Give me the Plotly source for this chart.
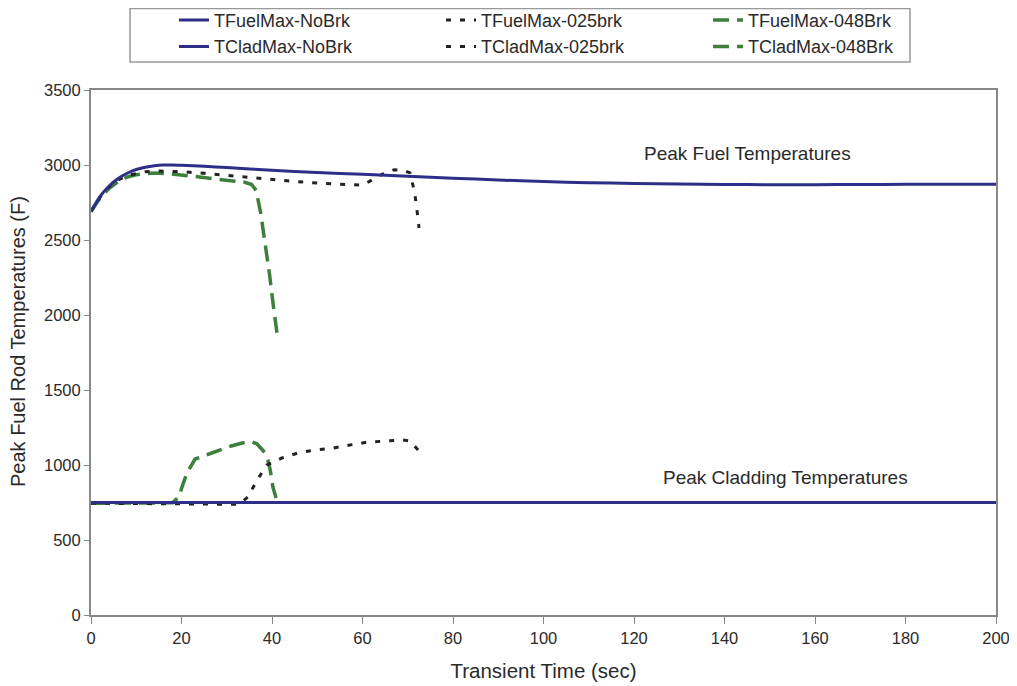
import plotly.graph_objects as go

# ---- data ----
t_fuel_nobrk = [0, 2, 4, 6, 8, 10, 12, 14, 16, 18, 20, 25, 30, 40, 50, 60, 70, 80, 90, 100,
                110, 120, 130, 140, 150, 160, 170, 180, 190, 200]
y_fuel_nobrk = [2690, 2790, 2860, 2910, 2945, 2970, 2985, 2995, 3000, 3000, 2998, 2992, 2983, 2965,
                2950, 2938, 2925, 2912, 2900, 2890, 2882, 2877, 2873, 2870, 2869, 2869, 2870, 2871,
                2872, 2872]

t_fuel_025 = [0, 2, 4, 6, 8, 10, 12, 15, 17, 20, 25, 30, 35, 40, 45, 50, 55, 60, 63, 65, 67, 69,
              70.5, 71.5, 72, 72.5]
y_fuel_025 = [2690, 2785, 2855, 2900, 2930, 2945, 2955, 2960, 2960, 2955, 2945, 2930, 2915, 2905,
              2890, 2880, 2872, 2865, 2915, 2950, 2968, 2965, 2947, 2820, 2710, 2580]

t_fuel_048 = [0, 2, 4, 6, 8, 10, 12, 14, 17, 20, 24, 28, 31, 34, 35.5, 36.5, 37.5, 38.5, 39.5,
              40.3, 41.1]
y_fuel_048 = [2690, 2780, 2845, 2890, 2920, 2935, 2943, 2946, 2943, 2935, 2920, 2905, 2895, 2885,
              2870, 2830, 2680, 2480, 2260, 2060, 1880]

t_clad_nobrk = [0, 50, 100, 150, 200]
y_clad_nobrk = [750, 750, 750, 750, 750]

t_clad_025 = [0, 5, 10, 15, 20, 25, 30, 32, 33, 34.7, 36.7, 38.9, 42.2, 45.7, 49.5, 53.5, 57.2,
              61.2, 65.4, 68.9, 70.5, 72.3]
y_clad_025 = [745, 745, 743, 742, 740, 740, 738, 738, 745, 787, 900, 1000, 1047, 1080, 1100, 1113,
              1133, 1153, 1160, 1167, 1160, 1100]

t_clad_048 = [0, 5, 10, 15, 18, 19.5, 20.1, 21.2, 23, 26.7, 31, 33.4, 35.5, 36.7, 38.5, 39.1, 39.6,
              40.2, 40.9]
y_clad_048 = [745, 745, 745, 745, 748, 790, 853, 947, 1040, 1080, 1127, 1147, 1155, 1140, 1080,
              1033, 967, 853, 780]

BLUE = "#2e2e88"
BLACK = "#222222"
GREEN = "#3d7f3d"
FONT = "Liberation Sans, Arial, sans-serif"
TXT = "#2a2a2a"

fig = go.Figure()

def add(name, x, y, color, dash, width, rank, shape="linear"):
    fig.add_trace(go.Scatter(x=x, y=y, mode="lines", name=name, legendrank=rank,
                             line=dict(color=color, dash=dash, width=width, shape=shape,
                                       smoothing=0.6)))

# drawing order: broken cases first, no-break on top
add("TFuelMax-048Brk", t_fuel_048, y_fuel_048, GREEN, "16px,8px", 3.5, 3)
add("TCladMax-048Brk", t_clad_048, y_clad_048, GREEN, "16px,8px", 3.5, 6)
add("TFuelMax-025brk", t_fuel_025, y_fuel_025, BLACK, "5px,9px", 3, 2)
add("TCladMax-025brk", t_clad_025, y_clad_025, BLACK, "5px,9px", 3, 5)
add("TFuelMax-NoBrk", t_fuel_nobrk, y_fuel_nobrk, BLUE, "solid", 3, 1, "spline")
add("TCladMax-NoBrk", t_clad_nobrk, y_clad_nobrk, BLUE, "solid", 3, 4)

fig.add_annotation(x=145, y=3080, text="Peak Fuel Temperatures", showarrow=False,
                   font=dict(size=19, color=TXT, family=FONT))
fig.add_annotation(x=153.5, y=920, text="Peak Cladding Temperatures", showarrow=False,
                   font=dict(size=19, color=TXT, family=FONT))

# y-axis title
fig.add_annotation(xref="paper", yref="paper", x=0, y=0.52, xshift=-73, textangle=-90,
                   text="Peak Fuel Rod Temperatures (F)", showarrow=False,
                   xanchor="center", yanchor="middle",
                   font=dict(size=20, color=TXT, family=FONT))

# legend frame
fig.add_shape(type="rect", xref="paper", yref="paper", x0=0.0431, x1=0.905, y0=1.0533, y1=1.1552,
              line=dict(color="#999999", width=1.5), fillcolor="rgba(0,0,0,0)", layer="above")

fig.update_layout(
    width=1017, height=686,
    margin=dict(l=83, r=29, t=82, b=79, autoexpand=False),
    paper_bgcolor="white", plot_bgcolor="white",
    font=dict(family=FONT, size=17, color=TXT),
    showlegend=True,
    legend=dict(orientation="h", x=0.1632, xanchor="left", y=1.168, yanchor="top",
                xref="container", yref="paper",
                entrywidth=222, borderwidth=0, bgcolor="rgba(0,0,0,0)",
                font=dict(size=18, family=FONT, color=TXT), traceorder="normal",
                itemwidth=30),
    xaxis=dict(range=[0, 200], dtick=20, showgrid=False, zeroline=False,
               showline=True, linecolor="#888888", linewidth=2, mirror=True,
               ticks="outside", ticklen=7, tickcolor="#888888", automargin=False,
               title=dict(text="Transient Time (sec)", font=dict(size=20.5), standoff=18),
               tickfont=dict(size=16.5)),
    yaxis=dict(range=[0, 3500], dtick=500, showgrid=False, zeroline=False,
               showline=True, linecolor="#888888", linewidth=2, mirror=True,
               ticks="outside", ticklen=5, tickcolor="#888888", automargin=False,
               tickfont=dict(size=16.5)),
)

fig.write_html("out.html")
